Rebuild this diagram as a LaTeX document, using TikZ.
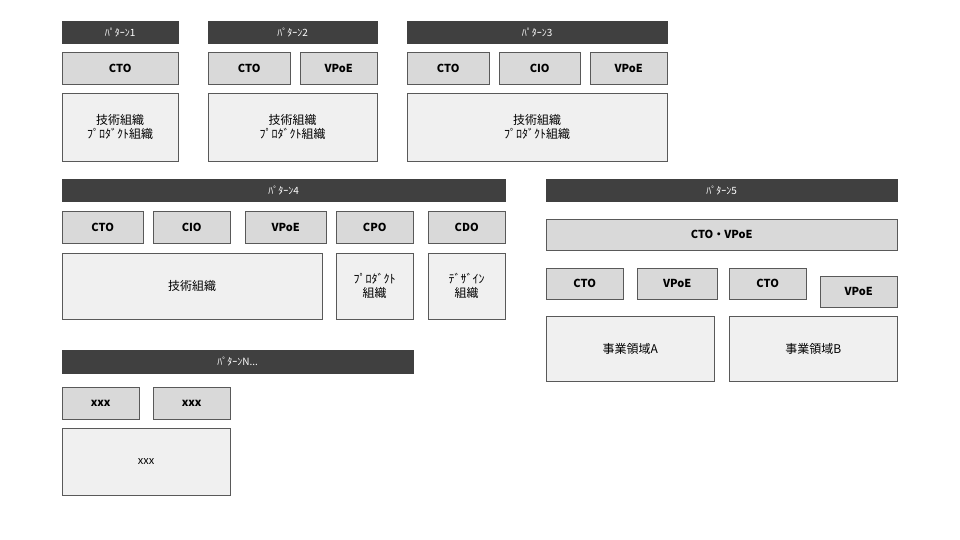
\documentclass[tikz,border=0pt]{standalone}
\usepackage{fontspec}
\setmainfont{Noto Sans CJK JP}
\tikzset{
    hdr/.style = {fill=black!75, draw=black!75, text=white, font=\fontsize{10}{12}\selectfont},
    role/.style = {fill=black!15, draw=black!65, font=\fontsize{11}{13}\selectfont\bfseries},
    org/.style = {fill=black!6, draw=black!65, align=center, font=\fontsize{12}{14}\selectfont}
}
% box from (x1,y1) to (x2,y2)
\newcommand{\bx}[7]{%
    \node [#6, anchor=north west, inner sep=0pt, minimum width=#3-#1, minimum height=#4-#2] (#5) at (#1,#2) {#7};
}
\begin{document}
\begin{tikzpicture}[x=1pt,y=-1pt]
    \useasboundingbox (0,0) rectangle (960,540);
    % pattern 1
    \bx{62}{21}{178}{43}{pone}{hdr}{ﾊﾟﾀｰﾝ1}
    \bx{62}{52}{178}{84}{poneCTO}{role}{CTO}
    \bx{62}{93}{178}{161}{poneOrg}{org}{技術組織\\ﾌﾟﾛﾀﾞｸﾄ組織}
    % pattern 2
    \bx{208}{21}{377}{43}{ptwo}{hdr}{ﾊﾟﾀｰﾝ2}
    \bx{208}{52}{290}{84}{ptwoCTO}{role}{CTO}
    \bx{300}{52}{377}{84}{ptwoVPoE}{role}{VPoE}
    \bx{208}{93}{377}{161}{ptwoOrg}{org}{技術組織\\ﾌﾟﾛﾀﾞｸﾄ組織}
    % pattern 3
    \bx{407}{21}{667}{43}{pthree}{hdr}{ﾊﾟﾀｰﾝ3}
    \bx{407}{52}{489}{84}{pthreeCTO}{role}{CTO}
    \bx{499}{52}{580}{84}{pthreeCIO}{role}{CIO}
    \bx{590}{52}{667}{84}{pthreeVPoE}{role}{VPoE}
    \bx{407}{93}{667}{161}{pthreeOrg}{org}{技術組織\\ﾌﾟﾛﾀﾞｸﾄ組織}
    % pattern 4
    \bx{62}{179}{505}{201}{pfour}{hdr}{ﾊﾟﾀｰﾝ4}
    \bx{62}{211}{143}{243}{pfourCTO}{role}{CTO}
    \bx{153}{211}{230}{243}{pfourCIO}{role}{CIO}
    \bx{245}{211}{326}{243}{pfourVPoE}{role}{VPoE}
    \bx{336}{211}{413}{243}{pfourCPO}{role}{CPO}
    \bx{428}{211}{505}{243}{pfourCDO}{role}{CDO}
    \bx{62}{253}{322}{319}{pfourTech}{org}{技術組織}
    \bx{336}{253}{413}{319}{pfourProd}{org}{ﾌﾟﾛﾀﾞｸﾄ\\組織}
    \bx{428}{253}{505}{319}{pfourDes}{org}{ﾃﾞｻﾞｲﾝ\\組織}
    % pattern 5
    \bx{546}{179}{897}{201}{pfive}{hdr}{ﾊﾟﾀｰﾝ5}
    \bx{546}{219}{897}{250}{pfiveTop}{role}{CTO・VPoE}
    \bx{546}{268}{623}{299}{pfiveCTOa}{role}{CTO}
    \bx{637}{268}{717}{299}{pfiveVPoEa}{role}{VPoE}
    \bx{729}{268}{806}{299}{pfiveCTOb}{role}{CTO}
    \bx{820}{276}{897}{307}{pfiveVPoEb}{role}{VPoE}
    \bx{546}{316}{714}{381}{pfiveA}{org}{事業領域A}
    \bx{729}{316}{897}{381}{pfiveB}{org}{事業領域B}
    % pattern N
    \bx{62}{350}{413}{373}{pn}{hdr}{ﾊﾟﾀｰﾝN...}
    \bx{62}{387}{139}{419}{pnA}{role}{xxx}
    \bx{153}{387}{230}{419}{pnB}{role}{xxx}
    \bx{62}{428}{230}{495}{pnOrg}{org}{\fontsize{11}{13}\selectfont xxx}
\end{tikzpicture}
\end{document}
